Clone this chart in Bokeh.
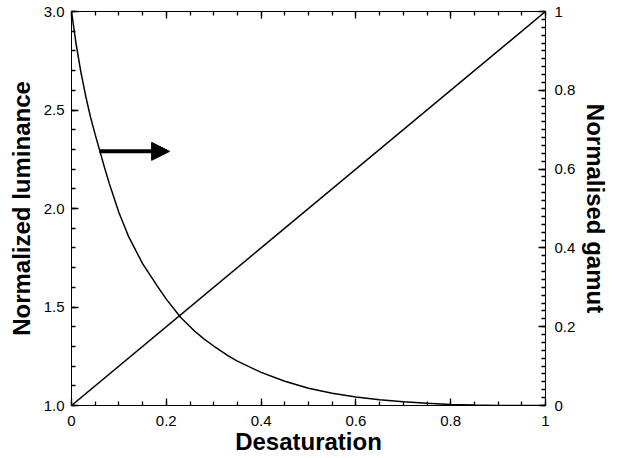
from bokeh.plotting import figure
from bokeh.models import Range1d, LinearAxis, FixedTicker, Arrow, NormalHead
from bokeh.embed import file_html
from bokeh.resources import INLINE

# Normalized luminance curve
desaturation = [0.0, 0.01, 0.02, 0.03, 0.04, 0.05, 0.06, 0.07, 0.08, 0.10, 0.12,
                0.15, 0.18, 0.20, 0.23, 0.26, 0.28, 0.30, 0.33, 0.35, 0.40, 0.45,
                0.50, 0.55, 0.60, 0.65, 0.70, 0.75, 0.80, 0.85, 0.90, 0.95, 1.0]
luminance = [3.0, 2.83, 2.69, 2.57, 2.465, 2.375, 2.29, 2.205, 2.125, 1.98, 1.86,
             1.72, 1.61, 1.54, 1.448, 1.377, 1.337, 1.302, 1.253, 1.225, 1.168, 1.123,
             1.088, 1.062, 1.043, 1.029, 1.019, 1.011, 1.005, 1.002, 1.0005, 1.0, 1.0]

# Normalised gamut line (right axis)
gamut_x = [0.0, 1.0]
gamut_y = [0.0, 1.0]

# Arrow annotation (pointing towards the right axis)
arrow_x = [0.059, 0.207]
arrow_y = 2.29

# Ticks
x_ticks = [0.0, 0.2, 0.4, 0.6, 0.8, 1.0]
x_tick_labels = ["0", "0.2", "0.4", "0.6", "0.8", "1"]
y_left_ticks = [1.0, 1.5, 2.0, 2.5, 3.0]
y_left_labels = ["1.0", "1.5", "2.0", "2.5", "3.0"]
y_right_ticks = [0.0, 0.2, 0.4, 0.6, 0.8, 1.0]
y_right_labels = ["0", "0.2", "0.4", "0.6", "0.8", "1"]

x_minor = [round(i * 0.05, 4) for i in range(21)]
y_left_minor = [round(1.0 + i * 0.1, 4) for i in range(21)]
y_right_minor = [round(i * 0.02, 4) for i in range(51)]

FONT = "Liberation Sans"

p = figure(frame_width=474, frame_height=394, x_range=Range1d(0, 1), y_range=Range1d(1, 3),
           output_backend="svg", toolbar_location=None,
           min_border_left=71, min_border_right=63, min_border_top=11, min_border_bottom=51)
p.extra_y_ranges = {"gamut": Range1d(0, 1)}
p.grid.visible = False
p.outline_line_color = "black"
p.outline_line_width = 1
p.background_fill_color = "white"
p.border_fill_color = "white"


def style_axis(ax, ticks, minor, labels, show_labels=True):
    ax.ticker = FixedTicker(ticks=ticks, minor_ticks=minor)
    ax.major_label_overrides = {t: l for t, l in zip(ticks, labels)}
    ax.major_tick_in = 7
    ax.major_tick_out = 0
    ax.minor_tick_in = 4
    ax.minor_tick_out = 0
    ax.major_tick_line_color = "black"
    ax.minor_tick_line_color = "black"
    ax.major_tick_line_width = 1.3
    ax.minor_tick_line_width = 1.3
    ax.axis_line_color = "black"
    ax.major_label_text_font = FONT
    ax.major_label_text_font_size = "15px" if show_labels else "0px"
    ax.major_label_text_color = "black"
    ax.axis_label_text_font = FONT
    ax.axis_label_text_font_size = "24px"
    ax.axis_label_text_font_style = "bold"
    ax.axis_label_text_color = "black"


xa = p.xaxis[0]
style_axis(xa, x_ticks, x_minor, x_tick_labels)
xa.axis_label = "Desaturation"
xa.major_label_standoff = 10
xa.axis_label_standoff = -1

ya = p.yaxis[0]
style_axis(ya, y_left_ticks, y_left_minor, y_left_labels)
ya.axis_label = "Normalized luminance"
ya.major_label_standoff = 7
ya.axis_label_standoff = 6

ra = LinearAxis(y_range_name="gamut")
style_axis(ra, y_right_ticks, y_right_minor, y_right_labels)
ra.axis_label = "Normalised gamut"
ra.major_label_standoff = 9
ra.axis_label_standoff = 4
p.add_layout(ra, "right")

ta = LinearAxis()
style_axis(ta, x_ticks, x_minor, ["" for _ in x_ticks], show_labels=False)
ta.major_label_standoff = 0
p.add_layout(ta, "above")

p.line(desaturation, luminance, line_color="black", line_width=1.5)
p.line(gamut_x, gamut_y, y_range_name="gamut", line_color="black", line_width=1.5)

p.add_layout(Arrow(end=NormalHead(size=18, fill_color="black", line_color="black"),
                   x_start=arrow_x[0], y_start=arrow_y, x_end=arrow_x[1], y_end=arrow_y,
                   line_width=4, line_color="black"))

open("out.html", "w").write(file_html(p, INLINE))
